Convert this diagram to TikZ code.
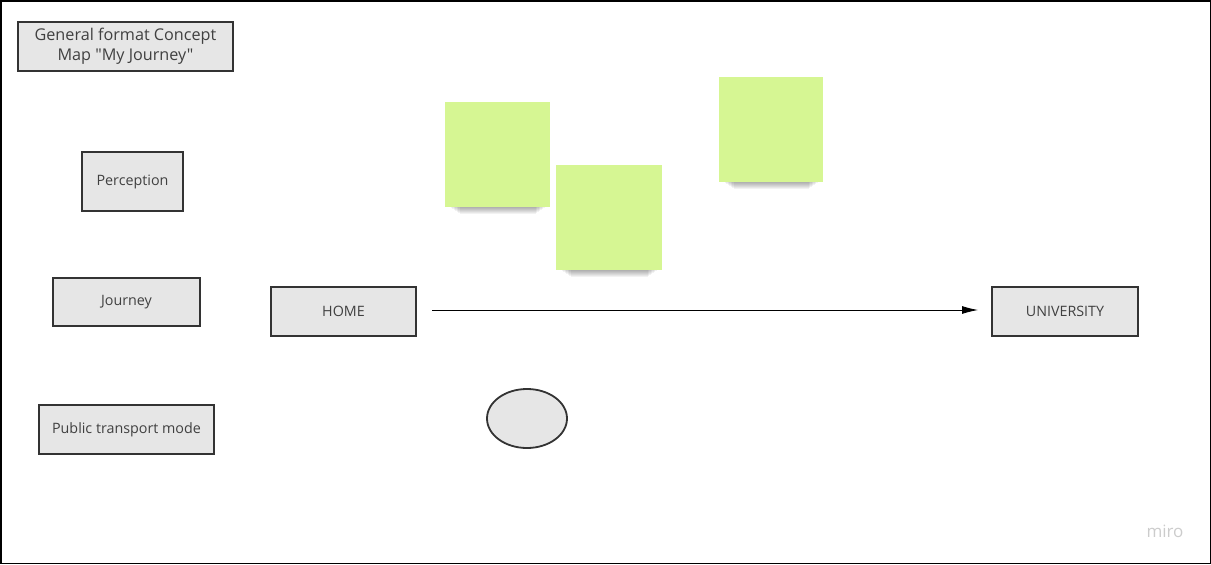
\documentclass[tikz,border=0pt]{standalone}
\usepackage{fontspec}
\setmainfont{Open Sans}[Ligatures=TeXOff]
\usetikzlibrary{arrows.meta,shapes.geometric}
\definecolor{boxfill}{HTML}{E6E6E6}
\definecolor{boxline}{HTML}{333333}
\definecolor{txt}{HTML}{404040}
\definecolor{sticky}{HTML}{D6F693}
\tikzset{
  concept/.style={draw=boxline, line width=1.8pt, fill=boxfill, text=txt, font=\fontsize{14.3}{18}\selectfont, inner sep=0pt, align=center},
  note/.style={fill=sticky, draw=none},
}
\begin{document}
\begin{tikzpicture}[x=1pt,y=-1pt]
\useasboundingbox (0,0) rectangle (1211,565);
\draw[line width=1.5pt] (0.75,0.75) rectangle (1210.25,563.5);
% title
\node[concept, minimum width=215, minimum height=49, font=\fontsize{16.2}{20}\selectfont] (title) at (125.5,46.5) {General format Concept\\Map "My Journey"};
\node[concept, minimum width=101, minimum height=59] (perc) at (132.5,181.5) {Perception};
\node[concept, minimum width=147, minimum height=48] (journey) at (126.5,302) {Journey};
\node[concept, minimum width=175, minimum height=49] (ptm) at (126.5,429.5) {Public transport mode};
\node[concept, minimum width=145, minimum height=49] (home) at (343.5,311.5) {HOME};
\node[concept, minimum width=146, minimum height=49] (uni) at (1065,311.5) {UNIVERSITY};
\coordinate (a1) at (432,310);
\coordinate (a2) at (978,310);
\draw[line width=0.8pt, -{Latex[length=16pt,width=8pt]}] (a1) -- (a2);
\node[ellipse, draw=boxline, line width=1.8pt, fill=boxfill, minimum width=80, minimum height=59, inner sep=0pt] (ell) at (527,418.5) {};
% stickies with shadows
\foreach \xa/\ya/\xb/\yb/\n in {445/102/550/207/s1, 556/165/662/270/s2, 719/77/823/182/s3}{
  \foreach \k in {1,...,7}{
    \fill[black, opacity=0.05] (\xa+4+1.5*\k,\yb-4) rectangle (\xb-4-1.5*\k,\yb+\k);
  }
  \path[note] (\xa,\ya) rectangle (\xb,\yb) coordinate (\n);
}
\node[text=black!20, font=\fontsize{17}{19}\selectfont] (miro) at (1165,531) {miro};
\end{tikzpicture}
\end{document}
